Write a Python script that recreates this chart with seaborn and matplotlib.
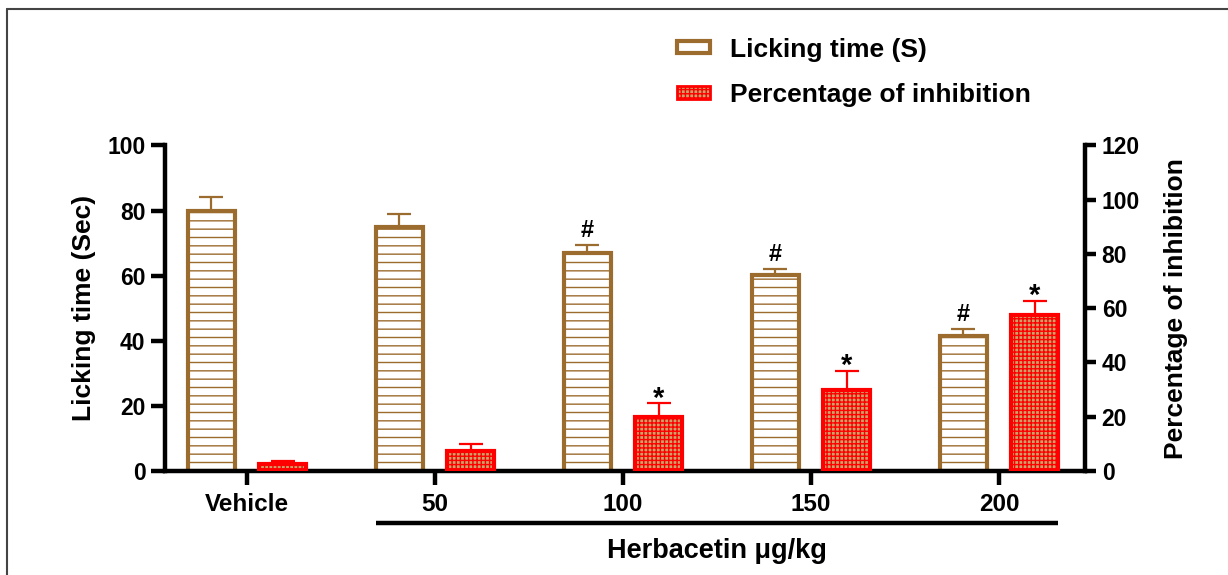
import numpy as np
import pandas as pd
import matplotlib
matplotlib.use("Agg")
import matplotlib.pyplot as plt
from matplotlib.patches import Patch
from matplotlib.lines import Line2D
import seaborn as sns

# ---- data ----
groups = ["Vehicle", "50", "100", "150", "200"]
licking_time = [80.0, 75.0, 67.0, 60.2, 41.5]          # seconds (left axis)
licking_err = [4.2, 4.0, 2.5, 1.8, 2.1]
inhibition = [2.5, 7.4, 20.0, 30.0, 57.6]              # percent (right axis)
inhibition_err = [1.0, 2.6, 5.1, 7.0, 5.2]
licking_marks = ["", "", "#", "#", "#"]
inhibition_marks = ["", "", "*", "*", "*"]

BROWN = "#9C6B2E"
RED = "#FF0000"
TAN = "#C8A46A"

sns.set_theme(style="white")
plt.rcParams["font.family"] = ["Liberation Sans", "DejaVu Sans"]
plt.rcParams["font.weight"] = "bold"
plt.rcParams["axes.labelweight"] = "bold"
plt.rcParams["hatch.linewidth"] = 1.0
for key in ("text.color", "axes.labelcolor", "xtick.color", "ytick.color"):
    plt.rcParams[key] = "black"

fig = plt.figure(figsize=(12.28, 5.75), dpi=100)
ax = fig.add_axes([0.1344, 0.1809, 0.7492, 0.5661])
ax2 = ax.twinx()

idx = np.arange(len(groups))
offset = 0.19
bar_w = 0.25

df_l = pd.DataFrame({"x": idx - offset, "y": licking_time})
df_r = pd.DataFrame({"x": idx + offset, "y": inhibition})

sns.barplot(data=df_l, x="x", y="y", native_scale=True, width=bar_w,
            color="white", saturation=1, edgecolor=BROWN, linewidth=3.0,
            hatch="--", ax=ax, zorder=2)
sns.barplot(data=df_r, x="x", y="y", native_scale=True, width=bar_w,
            color=TAN, saturation=1, edgecolor=RED, linewidth=3.0,
            hatch="++++", ax=ax2, zorder=2)

# upper-only error bars
ax.errorbar(idx - offset, licking_time, yerr=[np.zeros(len(groups)), licking_err],
            fmt="none", ecolor=BROWN, elinewidth=1.6, capsize=8.5, capthick=1.6, zorder=1)
ax2.errorbar(idx + offset, inhibition, yerr=[np.zeros(len(groups)), inhibition_err],
             fmt="none", ecolor=RED, elinewidth=1.6, capsize=8.5, capthick=1.6, zorder=1)

# significance marks
for i in idx:
    if licking_marks[i]:
        ax.annotate(licking_marks[i], (i - offset, licking_time[i] + licking_err[i]),
                    xytext=(0, 2), textcoords="offset points", ha="center", va="bottom",
                    fontsize=17, fontweight="bold", color="black")
    if inhibition_marks[i]:
        ax2.annotate(inhibition_marks[i], (i + offset, inhibition[i] + inhibition_err[i]),
                     xytext=(0, -7), textcoords="offset points", ha="center", va="bottom",
                     fontsize=21, fontweight="bold", color="black")

# axes styling
xlim = (-0.436, 4.457)
for a in (ax, ax2):
    a.set_xlim(*xlim)
    a.set_xlabel("")
ax.set_ylim(0, 100)
ax2.set_ylim(0, 120)
ax.set_yticks(np.arange(0, 101, 20))
ax2.set_yticks(np.arange(0, 121, 20))
ax.set_xticks(idx)
ax.set_xticklabels(groups)
ax.set_ylabel("Licking time (Sec)", fontsize=19, fontweight="bold", labelpad=8)
ax2.set_ylabel("Percentage of inhibition", fontsize=19, fontweight="bold", labelpad=17)

for s in ("top", "right"):
    ax.spines[s].set_visible(False)
for s in ("top", "left", "bottom"):
    ax2.spines[s].set_visible(False)
for sp in (ax.spines["left"], ax.spines["bottom"], ax2.spines["right"]):
    sp.set_linewidth(3.2)
    sp.set_color("black")

ax.tick_params(axis="y", direction="out", length=10, width=3.2, pad=4,
               labelsize=16.5, left=True, colors="black")
ax.tick_params(axis="x", direction="out", length=10, width=3.2, pad=6,
               labelsize=17.5, bottom=True, colors="black")
ax2.tick_params(axis="y", direction="out", length=8, width=3.2, pad=4,
                labelsize=16.5, right=True, colors="black")
for t in ax.get_xticklabels() + ax.get_yticklabels() + ax2.get_yticklabels():
    t.set_fontweight("bold")

# dose bracket under the Herbacetin groups
line_x0 = idx[1] - offset - bar_w / 2
line_x1 = idx[-1] + offset + bar_w / 2
ax.plot([line_x0, line_x1], [-16, -16], color="black", lw=3.2,
        clip_on=False, solid_capstyle="butt")
ax.text((line_x0 + line_x1) / 2, -24.6, "Herbacetin \u03bcg/kg", ha="center", va="center",
        fontsize=19.5, fontweight="bold", color="black")

# legend
handles = [
    Patch(facecolor="white", edgecolor=BROWN, linewidth=3.0),
    Patch(facecolor=TAN, edgecolor=RED, linewidth=2.0, hatch="++++"),
]
labels = ["Licking time (S)", "Percentage of inhibition"]
fig.legend(handles, labels, loc="upper left", bbox_to_anchor=(0.532, 0.976),
           frameon=False, handlelength=1.25, handleheight=0.35,
           handletextpad=0.75, labelspacing=0.82, labelcolor="black",
           prop={"weight": "bold", "size": 19})

# outer frame
fig.add_artist(Line2D([7 / 1228, 7 / 1228], [0, 1 - 9 / 575], color="#444444", lw=1.5))
fig.add_artist(Line2D([7 / 1228, 1], [1 - 9 / 575, 1 - 9 / 575], color="#444444", lw=1.5))

fig.savefig("out.png", dpi=100)
